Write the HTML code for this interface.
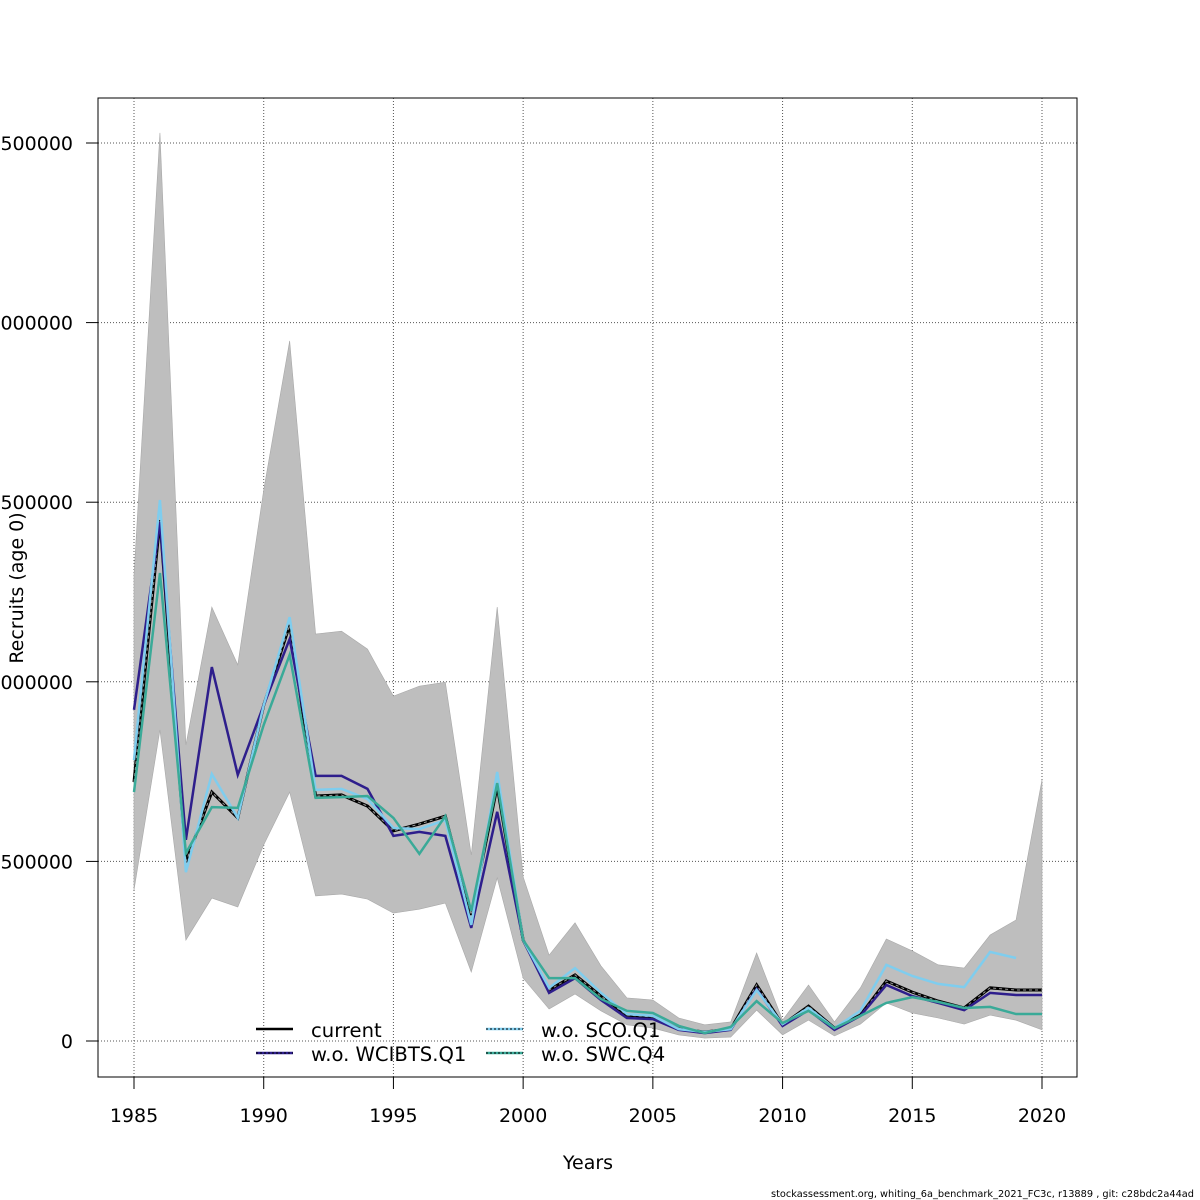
<!DOCTYPE html>
<html><head><meta charset="utf-8"><style>
html,body{margin:0;padding:0;background:#fff;}
svg{display:block;font-family:"DejaVu Sans","Liberation Sans",sans-serif;}
</style></head><body>
<svg id="chart" width="1200" height="1200" viewBox="0 0 1200 1200" xmlns="http://www.w3.org/2000/svg">
<g id="grid"></g>
<g id="band"></g>
<g id="lines"></g>
<rect x="98" y="98" width="979" height="979" fill="none" stroke="#000" stroke-width="1"/>
<g id="axes"></g>
<text x="588" y="1169" font-size="19" text-anchor="middle">Years</text>
<text transform="translate(23,588) rotate(-90)" font-size="19" text-anchor="middle">Recruits (age 0)</text>
<g>
  <g>
    <line x1="256" y1="1029" x2="293" y2="1029" stroke="#000" stroke-width="2.5"/>
    <text x="311" y="1037" font-size="19.6">current</text>
  </g>
  <g>
    <line x1="256" y1="1053" x2="293" y2="1053" stroke="#2e1e8c" stroke-width="2.5"/>
    <line x1="256" y1="1053" x2="293" y2="1053" stroke="#000" stroke-width="1" stroke-dasharray="2,2"/>
    <text x="311" y="1061" font-size="19.6">w.o. WCIBTS.Q1</text>
  </g>
  <g>
    <line x1="486" y1="1029" x2="523" y2="1029" stroke="#7fcdee" stroke-width="2.5"/>
    <line x1="486" y1="1029" x2="523" y2="1029" stroke="#000" stroke-width="1" stroke-dasharray="2,2"/>
    <text x="541" y="1037" font-size="19.6">w.o. SCO.Q1</text>
  </g>
  <g>
    <line x1="486" y1="1053" x2="523" y2="1053" stroke="#3aaa98" stroke-width="2.5"/>
    <line x1="486" y1="1053" x2="523" y2="1053" stroke="#000" stroke-width="1" stroke-dasharray="2,2"/>
    <text x="541" y="1061" font-size="19.6">w.o. SWC.Q4</text>
  </g>
</g>
<text x="771" y="1197" font-size="10" textLength="423" lengthAdjust="spacingAndGlyphs">stockassessment.org, whiting_6a_benchmark_2021_FC3c, r13889 , git: c28bdc2a44ad</text>
</svg>
<script>
const years = [1985,1986,1987,1988,1989,1990,1991,1992,1993,1994,1995,1996,1997,1998,1999,2000,2001,2002,2003,2004,2005,2006,2007,2008,2009,2010,2011,2012,2013,2014,2015,2016,2017,2018,2019,2020];
const upperCI = [1297,2528,824,1208,1047,1534,1949,1133,1141,1091,960,988,999,518,1208,457,239,329,209,120,114,64,45,53,245,58,156,53,148,284,251,212,203,295,337,727];
const lowerCI = [420,866,281,398,373,546,693,404,409,395,356,367,384,192,454,175,89,131,84,45,36,17,8,11,86,17,58,14,47,106,78,64,47,72,58,31];
const current = [721,1450,498,693,621,935,1158,682,685,654,585,604,626,351,710,281,142,184,125,72,67,33,25,33,156,45,97,36,72,167,136,111,92,148,142,142];
const woWCIBTS = [922,1445,560,1041,741,935,1119,738,738,702,571,582,571,315,638,281,134,175,114,64,61,31,22,31,145,42,86,31,70,156,125,106,86,134,128,128];
const woSCO = [782,1506,470,743,621,935,1180,699,702,674,593,590,615,323,749,281,148,203,134,75,70,33,25,33,142,47,92,36,84,212,181,159,150,248,231,null];
const woSWC = [693,1303,523,651,649,880,1075,677,679,682,621,521,626,362,718,281,175,175,117,84,78,42,22,39,111,50,84,36,70,106,122,109,92,95,75,75];
const yTicks = [0,500000,1000000,1500000,2000000,2500000];
const xTicks = [1985,1990,1995,2000,2005,2010,2015,2020];
const scaleK = 1000;

const NS = "http://www.w3.org/2000/svg";
function xs(yr){ return 134 + (yr-1985)*(1042-134)/35; }
function ys(v){ return 1041 - v*(1041-143)/2500000; }
function mk(tag, attrs, parent){ const e=document.createElementNS(NS,tag); for(const k in attrs) e.setAttribute(k,attrs[k]); parent.appendChild(e); return e; }

const grid=document.getElementById('grid'), axes=document.getElementById('axes');
xTicks.forEach(t=>{
  const g=mk('line',{x1:xs(t),x2:xs(t),y1:98,y2:1077,stroke:'#555','stroke-width':1,'stroke-dasharray':'1,2'},grid);
  
  
  const tk=mk('line',{x1:xs(t),x2:xs(t),y1:1077,y2:1089,stroke:'#000'},axes);
  
  
  const lb=mk('text',{x:xs(t),y:1122,'font-size':19,'text-anchor':'middle'},axes);
  lb.textContent=t;
  
  
});
yTicks.forEach(t=>{
  const g=mk('line',{x1:98,x2:1077,y1:ys(t),y2:ys(t),stroke:'#555','stroke-width':1,'stroke-dasharray':'1,2'},grid);
  
  
  const tk=mk('line',{x1:86,x2:98,y1:ys(t),y2:ys(t),stroke:'#000'},axes);
  
  
  const lb=mk('text',{x:73,y:ys(t)+7,'font-size':19,'text-anchor':'end'},axes);
  lb.textContent=t;
  
  
});

let pts=[];
years.forEach((y,i)=>pts.push(xs(y)+','+ys(upperCI[i]*scaleK)));
for(let i=years.length-1;i>=0;i--) pts.push(xs(years[i])+','+ys(lowerCI[i]*scaleK));
const band=mk('polygon',{points:pts.join(' '),fill:'#bebebe',stroke:'#a8a8a8','stroke-width':0.6},document.getElementById('band'));



function path(arr){
  let d='',pen=false;
  arr.forEach((v,i)=>{ if(v===null){pen=false;return;} d+=(pen?'L':'M')+xs(years[i])+','+ys(v*scaleK)+' '; pen=true; });
  return d;
}
const L=document.getElementById('lines');
const c1=mk('path',{d:path(current),fill:'none',stroke:'#000','stroke-width':3},L);


const c2=mk('path',{d:path(current),fill:'none',stroke:'#999','stroke-width':1,'stroke-dasharray':'3,3'},L);


const s1=mk('path',{d:path(woWCIBTS),fill:'none',stroke:'#2e1e8c','stroke-width':2.5},L);


const s2=mk('path',{d:path(woSCO),fill:'none',stroke:'#7fcdee','stroke-width':2.5},L);


const s3=mk('path',{d:path(woSWC),fill:'none',stroke:'#3aaa98','stroke-width':2.5},L);


</script>
</body></html>
